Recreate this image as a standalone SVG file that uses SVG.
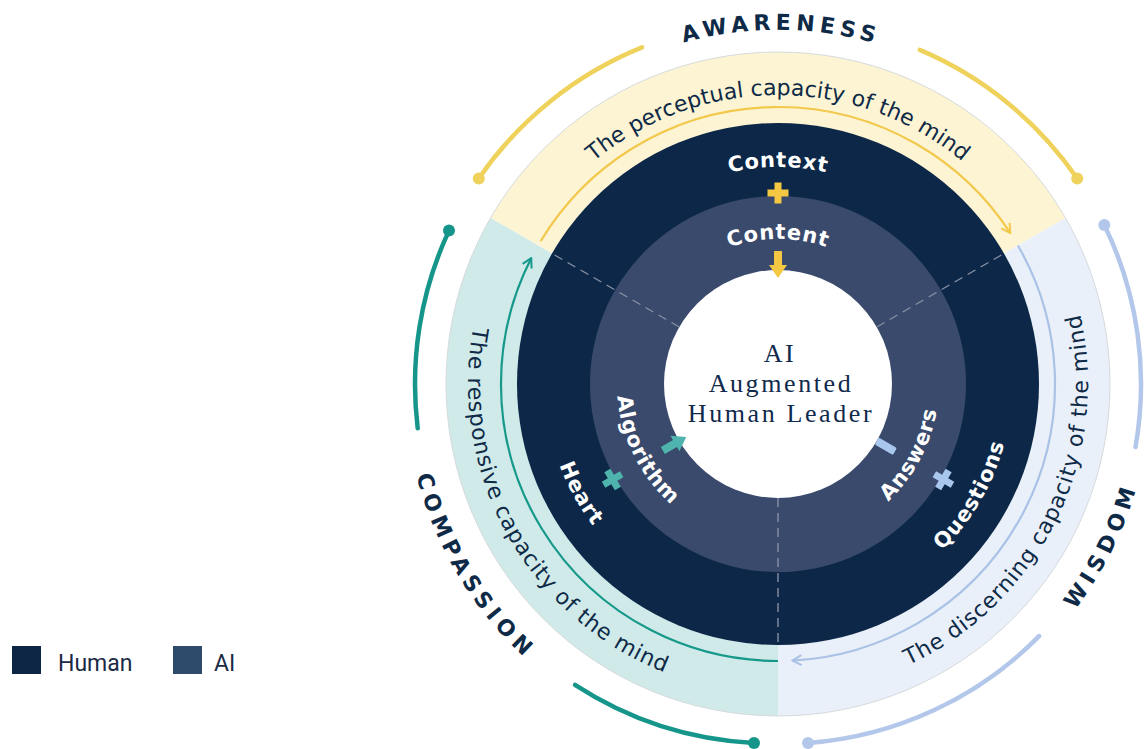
<svg xmlns="http://www.w3.org/2000/svg" width="1146" height="749" viewBox="0 0 1146 749">
<style>
.band-text{font-family:"DejaVu Sans",sans-serif;font-size:22px;fill:#0e2a47}
.outer-label{font-family:"DejaVu Sans",sans-serif;font-weight:bold;font-size:22px;fill:#0e2a47;letter-spacing:5px}
.ring-label{font-family:"DejaVu Sans",sans-serif;font-weight:bold;font-size:21px;fill:#ffffff;letter-spacing:0.8px}
.center-text{font-family:"Liberation Serif",serif;font-size:26px;fill:#0f2a4c;letter-spacing:2.6px}
.divider{stroke:#8790a3;stroke-width:1.4;stroke-dasharray:9 6;fill:none}
.deco{fill:none;stroke-width:4.5;stroke-linecap:round}
.flow{fill:none;stroke-width:2.2}
.legend{font-family:Roboto,sans-serif;font-size:23px;fill:#1b2a45}
</style>
<defs>
<path id="p-top" d="M493.4,333.8 A289,289 0 0 1 1062.6,333.8"/>
<path id="p-left" d="M582.9,143.1 A310,310 0 0 0 878.9,677.1"/>
<path id="p-right" d="M692.6,682 A310,310 0 0 0 960.2,133.2"/>
<path id="p-aware" d="M429.9,319.5 A354,354 0 0 1 1127.2,325.6"/>
<path id="p-comp" d="M533.3,102.5 A373,373 0 0 0 911.7,732.2"/>
<path id="p-wis" d="M672.1,741.6 A373,373 0 0 0 999.9,84.1"/>
<path id="p-context" d="M590.1,275.5 A217,217 0 0 1 965.9,275.5"/>
<path id="p-content" d="M652.4,311.5 A145,145 0 0 1 903.6,311.5"/>
<path id="p-heart" d="M578.3,264 A233,233 0 0 0 773.9,617"/>
<path id="p-questions" d="M778,618 A234,234 0 0 0 980.6,267"/>
<path id="p-algo" d="M643.7,295.1 A161,161 0 0 0 768.2,544.7"/>
<path id="p-answers" d="M783.6,544.9 A161,161 0 0 0 914.5,298.7"/>
<marker id="ah-yellow" viewBox="0 0 12 12" refX="11" refY="6" markerWidth="12" markerHeight="12" markerUnits="userSpaceOnUse" orient="auto"><path d="M2,1 L11,6 L2,11" fill="none" stroke="#f2c94c" stroke-width="2"/></marker>
<marker id="ah-blue" viewBox="0 0 12 12" refX="11" refY="6" markerWidth="12" markerHeight="12" markerUnits="userSpaceOnUse" orient="auto"><path d="M2,1 L11,6 L2,11" fill="none" stroke="#a9c2e6" stroke-width="2"/></marker>
<marker id="ah-teal" viewBox="0 0 12 12" refX="11" refY="6" markerWidth="12" markerHeight="12" markerUnits="userSpaceOnUse" orient="auto"><path d="M2,1 L11,6 L2,11" fill="none" stroke="#16998b" stroke-width="2"/></marker>
</defs>

<g id="awareness-band">
<path d="M778,384 L490.5,218 A332,332 0 0 1 1065.5,218 Z" fill="#fdf4d3"/>
</g>
<g id="wisdom-band">
<path d="M778,384 L1065.5,218 A332,332 0 0 1 778,716 Z" fill="#e9f0f9"/>
</g>
<g id="compassion-band">
<path d="M778,384 L778,716 A332,332 0 0 1 490.5,218 Z" fill="#d0eaea"/>
</g>
<circle cx="778" cy="384" r="332" fill="none" stroke="#d6dadd" stroke-width="1"/>

<g id="human-ring"><circle cx="778" cy="384" r="261" fill="#0c2747"/></g>
<g id="ai-ring"><circle cx="778" cy="384" r="188" fill="#394a6c"/></g>
<g id="center-node">
<circle cx="778" cy="384" r="114" fill="#ffffff"/>
<text class="center-text" text-anchor="middle" x="780" y="362">AI</text>
<text class="center-text" text-anchor="middle" x="781" y="392">Augmented</text>
<text class="center-text" text-anchor="middle" x="781" y="422">Human Leader</text>
</g>

<g id="connectors">
<line class="divider" x1="679.3" y1="327" x2="552" y2="253.5"/>
<line class="divider" x1="876.7" y1="327" x2="1004" y2="253.5"/>
<line class="divider" x1="778" y1="498" x2="778" y2="645"/>
<path class="flow" stroke="#f2c94c" d="M540.6,241.3 A277,277 0 0 1 1010.3,233.1" marker-end="url(#ah-yellow)"/>
<path class="flow" stroke="#a9c2e6" d="M1017.9,245.5 A277,277 0 0 1 792.5,660.6" marker-end="url(#ah-blue)"/>
<path class="flow" stroke="#16998b" d="M778,661 A277,277 0 0 1 531.2,258.2" marker-end="url(#ah-teal)"/>
<path class="deco" stroke="#efd25c" d="M642,47.4 A363,363 0 0 0 478.8,178.4"/>
<circle cx="478.8" cy="178.4" r="6" fill="#efd25c"/>
<path class="deco" stroke="#efd25c" d="M919.8,49.9 A363,363 0 0 1 1077.2,178.4"/>
<circle cx="1077.2" cy="178.4" r="6" fill="#efd25c"/>
<path class="deco" stroke="#b3c7ea" d="M1104.3,224.9 A363,363 0 0 1 1135.5,447"/>
<circle cx="1104.3" cy="224.9" r="6" fill="#b3c7ea"/>
<path class="deco" stroke="#b3c7ea" d="M1039.1,636.2 A363,363 0 0 1 808,743"/>
<circle cx="808" cy="743" r="6" fill="#b3c7ea"/>
<path class="deco" stroke="#16958a" d="M575,684.9 A363,363 0 0 0 754,743"/>
<circle cx="754" cy="743" r="6" fill="#16958a"/>
<path class="deco" stroke="#16958a" d="M449,230.6 A363,363 0 0 0 417.7,428.2"/>
<circle cx="449" cy="230.6" r="6" fill="#16958a"/>
</g>

<g id="awareness-labels">
<text class="outer-label"><textPath href="#p-aware" startOffset="50%" text-anchor="middle">AWARENESS</textPath></text>
<text class="band-text"><textPath href="#p-top" startOffset="50%" text-anchor="middle">The perceptual capacity of the mind</textPath></text>
<text class="ring-label"><textPath href="#p-context" startOffset="50%" text-anchor="middle">Context</textPath></text>
<text class="ring-label"><textPath href="#p-content" startOffset="50%" text-anchor="middle">Content</textPath></text>
<g fill="#f4c842">
<rect x="767.5" y="189.5" width="21" height="7"/>
<rect x="774.5" y="182.5" width="7" height="21"/>
<rect x="774" y="251" width="8" height="16"/>
<polygon points="769,265 787,265 778,278"/>
</g>
</g>

<g id="compassion-labels">
<text class="outer-label" style="letter-spacing:5.5px"><textPath href="#p-comp" startOffset="50%" text-anchor="middle">COMPASSION</textPath></text>
<text class="band-text" style="letter-spacing:0.8px"><textPath href="#p-left" startOffset="50%" text-anchor="middle">The responsive capacity of the mind</textPath></text>
<text class="ring-label"><textPath href="#p-heart" startOffset="50%" text-anchor="middle">Heart</textPath></text>
<text class="ring-label"><textPath href="#p-algo" startOffset="50%" text-anchor="middle">Algorithm</textPath></text>
<g fill="#4fb3ae" transform="rotate(-120 778 384)">
<rect x="767.5" y="189.5" width="21" height="7"/>
<rect x="774.5" y="182.5" width="7" height="21"/>
<rect x="774" y="251" width="8" height="16"/>
<polygon points="769,265 787,265 778,278"/>
</g>
</g>

<g id="wisdom-labels">
<text class="outer-label" style="letter-spacing:5.5px"><textPath href="#p-wis" startOffset="50%" text-anchor="middle">WISDOM</textPath></text>
<text class="band-text" style="letter-spacing:0.8px"><textPath href="#p-right" startOffset="50%" text-anchor="middle">The discerning capacity of the mind</textPath></text>
<text class="ring-label"><textPath href="#p-questions" startOffset="50%" text-anchor="middle">Questions</textPath></text>
<text class="ring-label"><textPath href="#p-answers" startOffset="50%" text-anchor="middle">Answers</textPath></text>
<g fill="#a9c6ec" transform="rotate(120 778 384)">
<rect x="767.5" y="189.5" width="21" height="7"/>
<rect x="774.5" y="182.5" width="7" height="21"/>
<rect x="774" y="249" width="8" height="21" rx="1.5"/>
</g>
</g>

<g id="legend">
<rect x="12" y="646" width="29" height="28" fill="#0c2544"/>
<text class="legend" x="58" y="671">Human</text>
<rect x="173" y="646" width="29" height="28" fill="#2e4a6b"/>
<text class="legend" x="214" y="671">AI</text>
</g>
</svg>
